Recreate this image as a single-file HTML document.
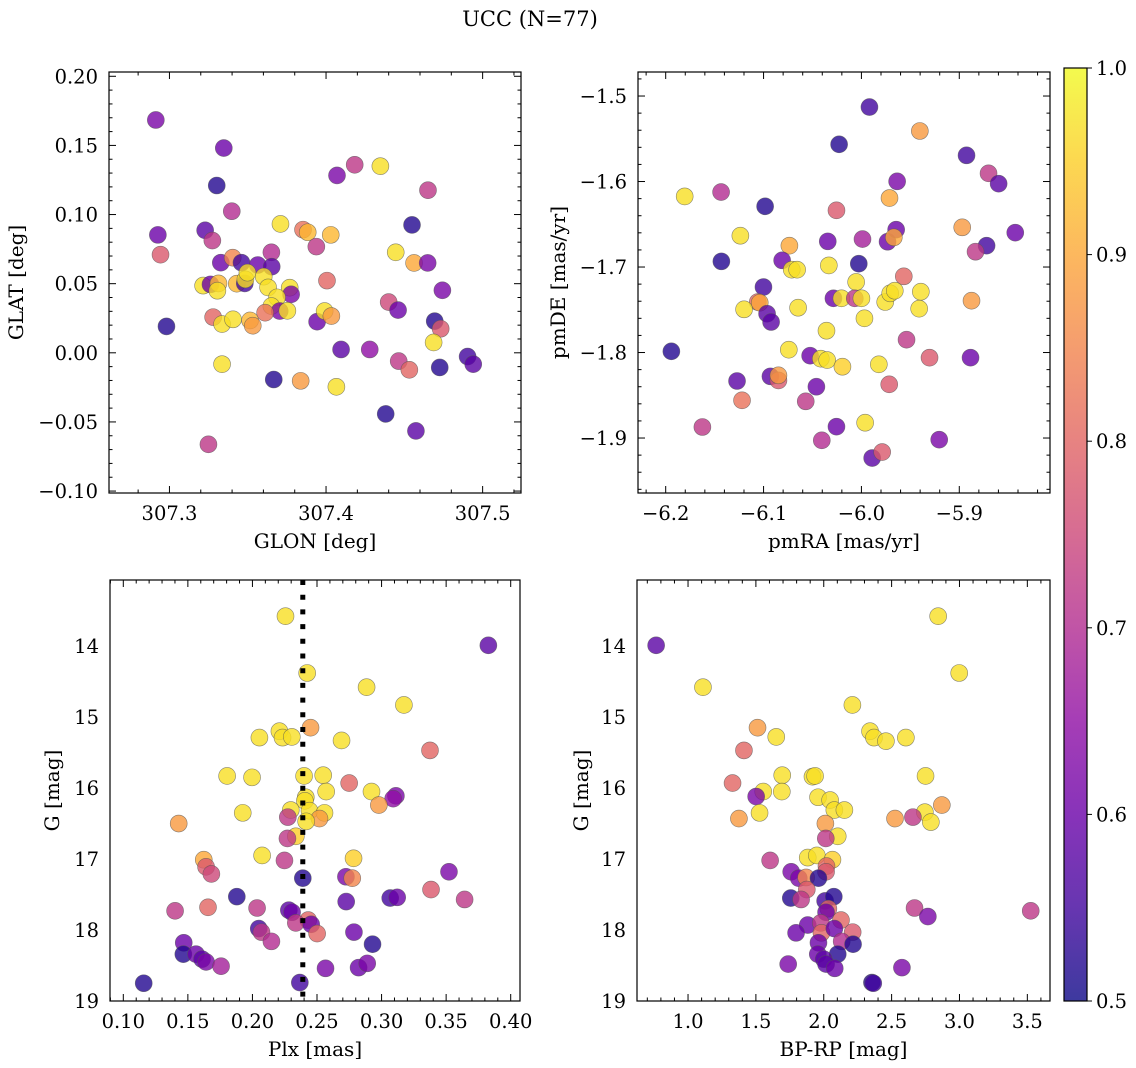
<!DOCTYPE html>
<html>
<head>
<meta charset="utf-8">
<style>
html,body{margin:0;padding:0;background:#fff;}
svg{display:block;}
text{font-family:"DejaVu Serif","Liberation Serif",serif;fill:#000;}
</style>
</head>
<body>
<svg id="fig" width="1136" height="1068" viewBox="0 0 1136 1068" xmlns="http://www.w3.org/2000/svg">
<defs>
<linearGradient id="plasmaGrad" x1="0" y1="1" x2="0" y2="0">
<stop offset="0" stop-color="#0d0887"/>
<stop offset="0.1" stop-color="#41049d"/>
<stop offset="0.2" stop-color="#6a00a8"/>
<stop offset="0.3" stop-color="#8f0da4"/>
<stop offset="0.4" stop-color="#b12a90"/>
<stop offset="0.5" stop-color="#cc4778"/>
<stop offset="0.6" stop-color="#e16462"/>
<stop offset="0.7" stop-color="#f2844b"/>
<stop offset="0.8" stop-color="#fca636"/>
<stop offset="0.9" stop-color="#fcce25"/>
<stop offset="1" stop-color="#f0f921"/>
</linearGradient>
</defs>
<text x="530" y="26" text-anchor="middle" font-size="21">UCC (N=77)</text>
</svg>
<script>
// ---- Panel 1: GLON / GLAT ----
const glon = [307.2913,307.3347,307.3302,307.3398,307.2926,307.2943,307.3228,307.3274,307.3328,307.3404,307.3460,307.3564,307.3651,307.3653,307.3215,307.3262,307.3313,307.3306,307.3430,307.3481,307.3485,307.3498,307.3602,307.3630,307.3768,307.3777,307.3687,307.3651,307.3704,307.3753,307.3611,307.3279,307.3336,307.3406,307.3515,307.3532,307.3709,307.3853,307.3883,307.4030,307.3938,307.4006,307.3943,307.3991,307.4034,307.3336,307.2981,307.3249,307.3666,307.3838,307.4066,307.4096,307.4279,307.4070,307.4183,307.4347,307.4651,307.4549,307.4445,307.4562,307.4649,307.4743,307.4400,307.4460,307.4694,307.4732,307.4687,307.4464,307.4532,307.4726,307.4904,307.4940,307.4381,307.4574];
const glat = [0.1684,0.1481,0.1210,0.1024,0.0853,0.0710,0.0886,0.0812,0.0652,0.0688,0.0652,0.0635,0.0727,0.0623,0.0486,0.0495,0.0502,0.0449,0.0500,0.0502,0.0531,0.0580,0.0551,0.0473,0.0471,0.0423,0.0401,0.0338,0.0302,0.0304,0.0290,0.0258,0.0208,0.0242,0.0234,0.0196,0.0932,0.0891,0.0872,0.0853,0.0768,0.0522,0.0225,0.0302,0.0266,-0.0082,0.0191,-0.0662,-0.0193,-0.0203,-0.0246,0.0024,0.0024,0.1283,0.1360,0.1350,0.1176,0.0925,0.0727,0.0650,0.0650,0.0452,0.0367,0.0309,0.0229,0.0174,0.0075,-0.0060,-0.0123,-0.0106,-0.0027,-0.0082,-0.0442,-0.0565];
const probGal = [0.62,0.60,0.52,0.70,0.60,0.78,0.58,0.72,0.60,0.85,0.55,0.60,0.70,0.58,0.97,0.60,0.92,0.97,0.92,0.55,0.97,0.97,0.97,0.97,0.97,0.62,0.97,0.97,0.62,0.97,0.82,0.80,0.97,0.97,0.92,0.88,0.97,0.82,0.92,0.92,0.72,0.80,0.60,0.97,0.88,0.97,0.52,0.72,0.52,0.88,0.97,0.58,0.65,0.62,0.72,0.97,0.72,0.52,0.97,0.90,0.62,0.62,0.75,0.60,0.52,0.78,0.97,0.72,0.80,0.52,0.55,0.58,0.52,0.58];
const glonTicks = [307.3,307.4,307.5];
const glonTickLabels = ["307.3","307.4","307.5"];
const glatTicks = [-0.10,-0.05,0.00,0.05,0.10,0.15,0.20];
const glatTickLabels = ["\u22120.10","\u22120.05","0.00","0.05","0.10","0.15","0.20"];

// ---- Panel 2: pmRA / pmDE ----
const pmra = [-5.9918,-5.9403,-6.0228,-5.8926,-5.9635,-5.8701,-5.8598,-6.1806,-6.1434,-6.0984,-5.9713,-6.0255,-5.8970,-5.8428,-6.1237,-6.0344,-5.9989,-5.9733,-5.9645,-5.9669,-5.8721,-5.8834,-6.0736,-6.1431,-6.0810,-6.0712,-6.0657,-6.0333,-6.0027,-6.1001,-6.0054,-5.9567,-6.1059,-6.1039,-6.1199,-6.0964,-6.0923,-6.0647,-6.0286,-6.0204,-6.0068,-6.0000,-5.9969,-5.9757,-5.9706,-5.9659,-5.9393,-5.9410,-5.8875,-6.0357,-5.9539,-6.1942,-6.0742,-6.0524,-6.0415,-6.0350,-6.0194,-5.9822,-5.9304,-5.8885,-6.1271,-6.0930,-6.0848,-6.0848,-6.0460,-5.9716,-6.1220,-6.0569,-6.1625,-6.0255,-5.9962,-6.0405,-5.9205,-5.9890,-5.9788];
const pmde = [-1.5129,-1.5409,-1.5565,-1.5694,-1.5998,-1.5904,-1.6025,-1.6174,-1.6123,-1.6290,-1.6193,-1.6337,-1.6536,-1.6598,-1.6634,-1.6700,-1.6673,-1.6704,-1.6563,-1.6653,-1.6750,-1.6821,-1.6750,-1.6934,-1.6922,-1.7031,-1.7031,-1.6981,-1.6961,-1.7234,-1.7175,-1.7109,-1.7409,-1.7417,-1.7495,-1.7546,-1.7643,-1.7476,-1.7366,-1.7366,-1.7366,-1.7366,-1.7600,-1.7409,-1.7308,-1.7277,-1.7289,-1.7487,-1.7394,-1.7745,-1.7850,-1.7986,-1.7967,-1.8037,-1.8072,-1.8088,-1.8166,-1.8138,-1.8060,-1.8060,-1.8333,-1.8279,-1.8326,-1.8267,-1.8400,-1.8372,-1.8559,-1.8571,-1.8871,-1.8867,-1.8821,-1.9027,-1.9019,-1.9234,-1.9164];
const probPm = [0.55,0.88,0.52,0.55,0.62,0.72,0.58,0.97,0.70,0.52,0.90,0.78,0.88,0.60,0.97,0.60,0.68,0.60,0.60,0.90,0.55,0.72,0.90,0.52,0.60,0.97,0.97,0.97,0.52,0.55,0.97,0.80,0.80,0.90,0.97,0.58,0.58,0.97,0.60,0.97,0.72,0.97,0.97,0.97,0.97,0.97,0.97,0.97,0.88,0.97,0.72,0.52,0.97,0.60,0.97,0.97,0.95,0.97,0.78,0.60,0.58,0.58,0.78,0.88,0.60,0.78,0.82,0.72,0.72,0.60,0.97,0.70,0.62,0.58,0.78];
const pmraTicks = [-6.2,-6.1,-6.0,-5.9];
const pmraTickLabels = ["\u22126.2","\u22126.1","\u22126.0","\u22125.9"];
const pmdeTicks = [-1.9,-1.8,-1.7,-1.6,-1.5];
const pmdeTickLabels = ["\u22121.9","\u22121.8","\u22121.7","\u22121.6","\u22121.5"];

// ---- Panel 3: Plx / G ----
const plx = [0.2256,0.3827,0.2424,0.2884,0.3173,0.2450,0.2054,0.2209,0.2233,0.2305,0.2690,0.3375,0.1804,0.1997,0.2400,0.2548,0.2749,0.2571,0.2922,0.3111,0.3090,0.2413,0.2406,0.2979,0.1925,0.2297,0.2442,0.2558,0.2519,0.2274,0.2416,0.1429,0.2336,0.2271,0.2075,0.2783,0.1623,0.2248,0.1641,0.1682,0.2390,0.2724,0.2773,0.3522,0.3383,0.3643,0.1879,0.3067,0.3121,0.2726,0.1401,0.1656,0.2036,0.2282,0.2307,0.2432,0.2336,0.2455,0.2049,0.2070,0.2501,0.2147,0.2786,0.2930,0.1468,0.1465,0.1563,0.1610,0.1641,0.1757,0.2566,0.2822,0.2889,0.1158,0.2367];
const gPlx = [13.58,13.99,14.38,14.58,14.83,15.15,15.29,15.20,15.29,15.28,15.33,15.47,15.83,15.85,15.83,15.82,15.93,16.05,16.05,16.11,16.15,16.13,16.18,16.24,16.35,16.31,16.32,16.35,16.43,16.41,16.47,16.50,16.68,16.71,16.95,16.99,17.01,17.02,17.11,17.21,17.27,17.25,17.27,17.18,17.43,17.57,17.53,17.55,17.54,17.60,17.73,17.68,17.69,17.72,17.75,17.86,17.90,17.92,17.98,18.03,18.05,18.16,18.03,18.20,18.18,18.34,18.34,18.41,18.45,18.51,18.54,18.53,18.47,18.75,18.74];
const probPlx = [0.97,0.58,0.97,0.97,0.97,0.88,0.97,0.97,0.97,0.97,0.97,0.80,0.97,0.97,0.97,0.97,0.80,0.97,0.97,0.62,0.65,0.97,0.97,0.88,0.97,0.97,0.97,0.97,0.88,0.72,0.97,0.88,0.95,0.72,0.97,0.95,0.90,0.72,0.78,0.75,0.52,0.62,0.85,0.62,0.78,0.72,0.52,0.55,0.60,0.58,0.72,0.80,0.72,0.58,0.60,0.80,0.72,0.60,0.55,0.72,0.80,0.70,0.60,0.52,0.60,0.52,0.60,0.58,0.62,0.68,0.62,0.60,0.62,0.52,0.55];
const plxMedian = [0.239];
const plxTicks = [0.10,0.15,0.20,0.25,0.30,0.35,0.40];
const plxTickLabels = ["0.10","0.15","0.20","0.25","0.30","0.35","0.40"];
const gTicks = [14,15,16,17,18,19];
const gTickLabels = ["14","15","16","17","18","19"];

// ---- Panel 4: BP-RP / G ----
const bprp = [0.765,2.843,2.998,1.110,2.211,1.512,1.650,1.412,2.341,2.370,2.458,2.605,1.328,1.694,1.917,1.936,2.750,1.554,1.691,1.502,1.958,2.047,2.078,2.152,1.527,1.375,2.870,2.745,2.789,2.525,2.657,2.012,2.103,2.015,1.605,1.882,1.949,2.064,2.020,2.017,1.760,1.816,1.870,1.961,1.875,1.757,1.833,2.010,2.074,2.034,2.017,2.669,2.767,3.525,1.882,1.978,2.127,1.796,1.983,2.078,2.213,2.132,2.216,1.961,1.956,2.103,2.000,2.017,2.081,1.738,2.576,2.355,2.365];
const gCmd = [13.99,13.58,14.38,14.58,14.83,15.15,15.28,15.47,15.20,15.29,15.34,15.29,15.93,15.82,15.84,15.83,15.83,16.05,16.05,16.12,16.13,16.17,16.31,16.31,16.35,16.43,16.24,16.34,16.48,16.43,16.41,16.50,16.68,16.71,17.02,16.98,16.95,17.01,17.10,17.18,17.18,17.27,17.26,17.27,17.43,17.55,17.57,17.59,17.53,17.70,17.75,17.69,17.81,17.73,17.93,17.90,17.86,18.04,18.04,17.98,18.03,18.16,18.20,18.18,18.34,18.34,18.41,18.48,18.54,18.48,18.53,18.74,18.75];
const probCmd = [0.58,0.97,0.97,0.97,0.97,0.88,0.97,0.80,0.97,0.97,0.97,0.97,0.80,0.97,0.97,0.97,0.97,0.97,0.97,0.62,0.97,0.97,0.97,0.97,0.97,0.88,0.88,0.97,0.97,0.88,0.72,0.88,0.97,0.72,0.72,0.97,0.97,0.95,0.80,0.78,0.62,0.62,0.85,0.52,0.78,0.52,0.72,0.55,0.52,0.80,0.60,0.72,0.62,0.72,0.60,0.72,0.80,0.60,0.80,0.60,0.78,0.70,0.52,0.60,0.60,0.52,0.58,0.58,0.60,0.62,0.62,0.52,0.55];
const bprpTicks = [1.0,1.5,2.0,2.5,3.0,3.5];
const bprpTickLabels = ["1.0","1.5","2.0","2.5","3.0","3.5"];

// ---- Colorbar ----
const cbarTicks = [0.5,0.6,0.7,0.8,0.9,1.0];
const cbarTickLabels = ["0.5","0.6","0.7","0.8","0.9","1.0"];

const NS = "http://www.w3.org/2000/svg";
const svg = document.getElementById("fig");
const plasmaStops = ["#0d0887","#41049d","#6a00a8","#8f0da4","#b12a90","#cc4778","#e16462","#f2844b","#fca636","#fcce25","#f0f921"];
function hex(h){return [parseInt(h.substr(1,2),16),parseInt(h.substr(3,2),16),parseInt(h.substr(5,2),16)];}
function plasma(p){
  let t=(p-0.5)/0.5; t=Math.max(0,Math.min(1,t));
  const f=t*10, i=Math.min(9,Math.floor(f)), r=f-i;
  const a=hex(plasmaStops[i]), b=hex(plasmaStops[i+1]);
  return "rgb("+a.map((v,k)=>Math.round(v+(b[k]-v)*r)).join(",")+")";
}
function mk(tag, attrs, parent){
  const e=document.createElementNS(NS,tag);
  for(const k in attrs) e.setAttribute(k,attrs[k]);
  (parent||svg).appendChild(e);
  return e;
}
function linScale(d0,d1,r0,r1){return v=>r0+(v-d0)/(d1-d0)*(r1-r0);}

const TICKFS = 19.5, LABELFS = 20;

function drawPanel(cfg){
  const g=mk("g",{});
  
  
  const sx=linScale(cfg.xmin,cfg.xmax,cfg.x0,cfg.x1);
  const sy=linScale(cfg.ymin,cfg.ymax,cfg.y1,cfg.y0);
  const tg=mk("g",{stroke:"#000","stroke-width":1},g);
  
  
  const xs=Math.ceil(cfg.xmin/cfg.xminor-1e-9), xe=Math.floor(cfg.xmax/cfg.xminor+1e-9);
  for(let i=xs;i<=xe;i++){
    const v=i*cfg.xminor, X=sx(v);
    const major=cfg.xticks.some(t=>Math.abs(t-v)<cfg.xminor/3);
    const L=major?7:3.5;
    mk("line",{x1:X,x2:X,y1:cfg.y1,y2:cfg.y1-L},tg);
    mk("line",{x1:X,x2:X,y1:cfg.y0,y2:cfg.y0+L},tg);
  }
  const ys=Math.ceil(cfg.ymin/cfg.yminor-1e-9), ye=Math.floor(cfg.ymax/cfg.yminor+1e-9);
  for(let i=ys;i<=ye;i++){
    const v=i*cfg.yminor, Y=sy(v);
    const major=cfg.yticks.some(t=>Math.abs(t-v)<cfg.yminor/3);
    const L=major?7:3.5;
    mk("line",{x1:cfg.x0,x2:cfg.x0+L,y1:Y,y2:Y},tg);
    mk("line",{x1:cfg.x1,x2:cfg.x1-L,y1:Y,y2:Y},tg);
  }
  cfg.xticks.forEach((v,i)=>{
    const t=mk("text",{x:sx(v),y:cfg.y1+27,"text-anchor":"middle","font-size":TICKFS},g);
    t.textContent=cfg.xlabels[i];
    
    
  });
  cfg.yticks.forEach((v,i)=>{
    const t=mk("text",{x:cfg.x0-11,y:sy(v)+7,"text-anchor":"end","font-size":TICKFS},g);
    t.textContent=cfg.ylabels[i];
    
    
  });
  const xt=mk("text",{x:(cfg.x0+cfg.x1)/2,y:cfg.y1+55,"text-anchor":"middle","font-size":LABELFS},g);
  xt.textContent=cfg.xtitle;
  
  
  const yt=mk("text",{x:0,y:0,"text-anchor":"middle","font-size":LABELFS,transform:"translate("+cfg.ytx+","+((cfg.y0+cfg.y1)/2)+") rotate(-90)"},g);
  yt.textContent=cfg.ytitle;
  
  
  const pg=mk("g",{},g);
  
  
  for(let i=0;i<cfg.xs.length;i++){
    const c=mk("circle",{cx:sx(cfg.xs[i]),cy:sy(cfg.ys[i]),r:8.5,fill:plasma(cfg.ps[i]),"fill-opacity":0.8,stroke:"#555","stroke-opacity":0.7,"stroke-width":0.6},pg);
    
    
  }
  if(cfg.vline){
    const X=sx(cfg.vline[0]);
    const l=mk("line",{x1:X,x2:X,y1:cfg.y0,y2:cfg.y1,stroke:"#000","stroke-width":5,"stroke-dasharray":"5 9.7"},g);
    
    
  }
  const fr=mk("rect",{x:cfg.x0,y:cfg.y0,width:cfg.x1-cfg.x0,height:cfg.y1-cfg.y0,fill:"none",stroke:"#000","stroke-width":1.2},g);
  
  
}

drawPanel({name:"glon-glat-panel",x0:109,x1:521,y0:72,y1:493,xmin:307.2614,xmax:307.5245,ymin:-0.1014,ymax:0.2031,
  xticks:glonTicks,xlabels:glonTickLabels,yticks:glatTicks,ylabels:glatTickLabels,xminor:0.02,yminor:0.01,
  xtitle:"GLON [deg]",ytitle:"GLAT [deg]",ytx:23,xs:glon,ys:glat,ps:probGal});
drawPanel({name:"pm-panel",x0:638,x1:1050,y0:72,y1:493,xmin:-6.2283,xmax:-5.8073,ymin:-1.9643,ymax:-1.4719,
  xticks:pmraTicks,xlabels:pmraTickLabels,yticks:pmdeTicks,ylabels:pmdeTickLabels,xminor:0.02,yminor:0.02,
  xtitle:"pmRA [mas/yr]",ytitle:"pmDE [mas/yr]",ytx:565,xs:pmra,ys:pmde,ps:probPm});
drawPanel({name:"plx-g-panel",x0:110,x1:520,y0:580,y1:1001,xmin:0.0897,xmax:0.4072,ymin:19.0,ymax:13.07,
  xticks:plxTicks,xlabels:plxTickLabels,yticks:gTicks,ylabels:gTickLabels,xminor:0.01,yminor:0.2,
  xtitle:"Plx [mas]",ytitle:"G [mag]",ytx:59,xs:plx,ys:gPlx,ps:probPlx,vline:plxMedian});
drawPanel({name:"cmd-panel",x0:637,x1:1050,y0:580,y1:1001,xmin:0.624,xmax:3.667,ymin:19.0,ymax:13.07,
  xticks:bprpTicks,xlabels:bprpTickLabels,yticks:gTicks,ylabels:gTickLabels,xminor:0.1,yminor:0.2,
  xtitle:"BP-RP [mag]",ytitle:"G [mag]",ytx:588,xs:bprp,ys:gCmd,ps:probCmd});

(function(){
  const cb=mk("g",{});
  
  
  const x0=1064,x1=1087,y0=68,y1=1001;
  const sy=linScale(0.5,1.0,y1,y0);
  const r=mk("rect",{x:x0,y:y0,width:x1-x0,height:y1-y0,fill:"url(#plasmaGrad)","fill-opacity":0.8},cb);
  
  
  cbarTicks.forEach((v,i)=>{
    const Y=sy(v);
    mk("line",{x1:x1,x2:x1+5,y1:Y,y2:Y,stroke:"#000","stroke-width":1},cb);
    const t=mk("text",{x:x1+9,y:Y+7,"font-size":TICKFS},cb);
    t.textContent=cbarTickLabels[i];
    
    
  });
  const f=mk("rect",{x:x0,y:y0,width:x1-x0,height:y1-y0,fill:"none",stroke:"#000","stroke-width":1.2},cb);
  
  
})();
</script>
</body>
</html>
